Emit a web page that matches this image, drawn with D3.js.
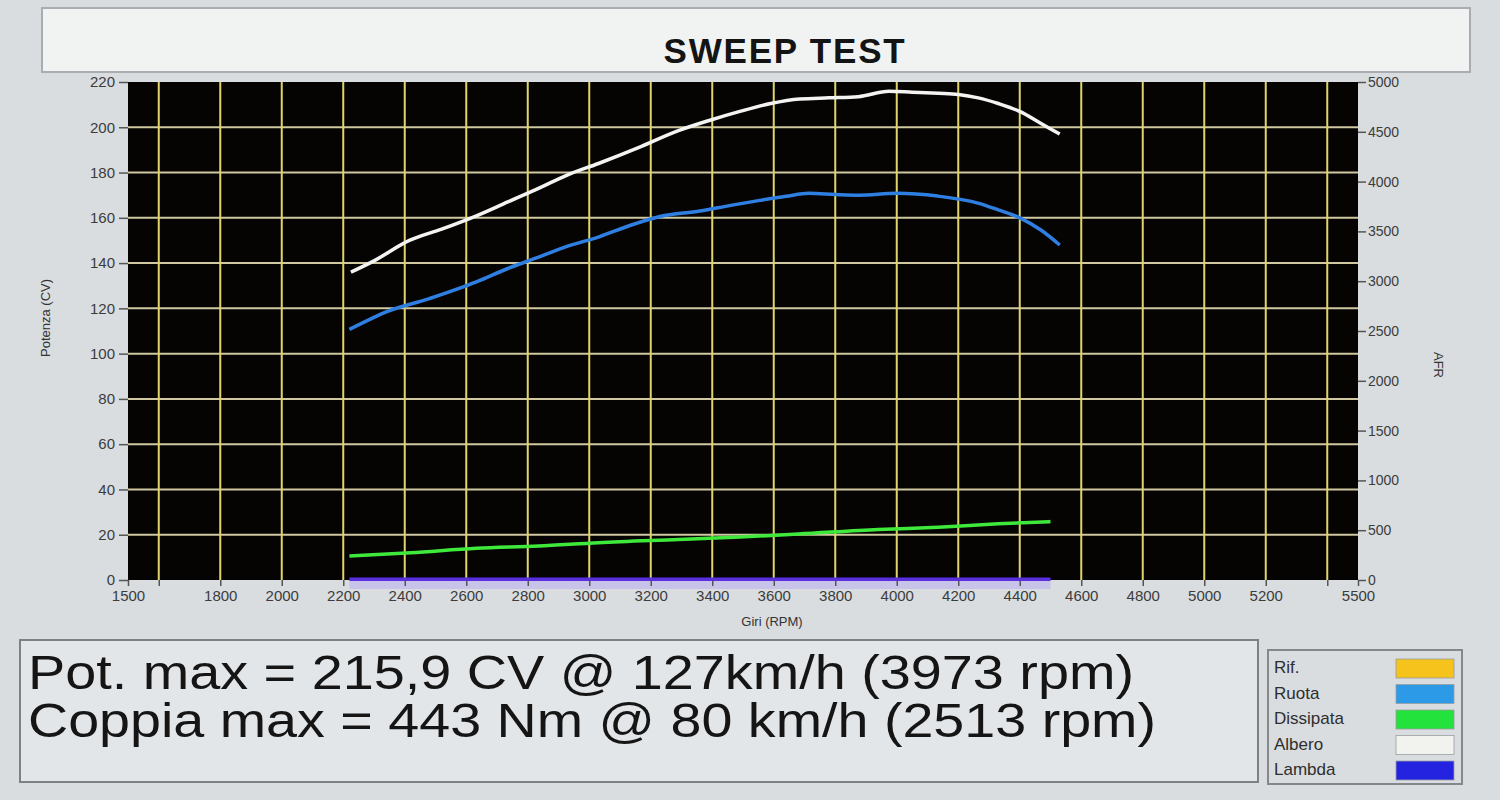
<!DOCTYPE html>
<html>
<head>
<meta charset="utf-8">
<script src="https://cdn.jsdelivr.net/npm/d3@7"></script>
<style>
  html, body { margin: 0; padding: 0; background: #d9dde0; }
  svg { display: block; font-family: Arial, "Liberation Sans", sans-serif; }
</style>
</head>
<body>
<svg id="chart" width="1500" height="800"></svg>
<script>
// ---------- data ----------
const titleText = "SWEEP TEST";
const xTicks = [1500, 1600, 1800, 2000, 2200, 2400, 2600, 2800, 3000, 3200, 3400, 3600, 3800, 4000, 4200, 4400, 4600, 4800, 5000, 5200, 5400, 5500];
const xUnlabeled = [1600, 5400];
const yLeftTicks = [0, 20, 40, 60, 80, 100, 120, 140, 160, 180, 200, 220];
const yRightTicks = [0, 500, 1000, 1500, 2000, 2500, 3000, 3500, 4000, 4500, 5000];

// Albero (shaft power, CV)
const alberoRpm = [2225, 2300, 2415, 2520, 2635, 2735, 2835, 2930, 3030, 3160, 3290, 3390, 3490, 3590, 3685, 3780, 3875, 3975, 4050, 4135, 4200, 4265, 4330, 4400, 4465, 4530];
const alberoCV  = [136, 141, 150, 155, 161, 167, 173, 179, 184, 191, 198.5, 203, 207, 210.5, 212.5, 213, 213.5, 215.9, 215.5, 215, 214.5, 213, 210.5, 207, 202, 197];
// Ruota (wheel power, CV)
const ruotaRpm = [2220, 2300, 2330, 2480, 2633, 2733, 2833, 2930, 3032, 3130, 3230, 3360, 3460, 3555, 3640, 3715, 3800, 3877, 4000, 4133, 4267, 4330, 4400, 4470, 4530];
const ruotaCV  = [110.7, 116, 117.9, 124.3, 131.7, 137.5, 142.5, 147.5, 151.6, 156.5, 160.6, 163, 165.5, 167.7, 169.5, 170.8, 170.3, 170, 170.8, 169.6, 166.4, 163.5, 160, 154.5, 148];
// Dissipata (losses, CV)
const dissRpm = [2220, 2420, 2633, 2835, 3030, 3290, 3490, 3680, 3940, 4135, 4330, 4500];
const dissCV  = [10.6, 12, 14, 15, 16.5, 17.9, 19, 20.3, 22.3, 23.3, 24.8, 25.8];
// Lambda (right axis, AFR)
const lambdaRpm = [2220, 2800, 3400, 4000, 4500];
const lambdaAFR = [8, 8, 8, 8, 8];

const legendNames  = ["Rif.", "Ruota", "Dissipata", "Albero", "Lambda"];
const legendColors = ["#f6c21c", "#2c9ae6", "#24e23c", "#f2f2ee", "#2323e0"];

const infoLines = [
  "Pot. max = 215,9 CV @ 127km/h (3973 rpm)",
  "Coppia max = 443 Nm @ 80 km/h (2513 rpm)"
];

// ---------- drawing ----------
const svg = d3.select("#chart");
const L = 128, R = 1358, T = 82, B = 580;

const x  = d3.scaleLinear().domain([1500, 5500]).range([L, R]);
const yL = d3.scaleLinear().domain([0, 220]).range([B, T]);
const yR = d3.scaleLinear().domain([0, 5000]).range([B, T]);

// title bar
svg.append("rect").attr("x", 42).attr("y", 8).attr("width", 1428).attr("height", 64)
  .attr("fill", "#f1f3f3").attr("stroke", "#a9adb1").attr("stroke-width", 2);
svg.append("text").attr("x", 785).attr("y", 63).attr("text-anchor", "middle")
  .attr("font-size", 35).attr("font-weight", "bold").attr("letter-spacing", 1.8)
  .attr("fill", "#141414").text(titleText);

// plot background
svg.append("rect").attr("x", L).attr("y", T).attr("width", R - L).attr("height", B - T)
  .attr("fill", "#050403");

// grid
const grid = svg.append("g");
grid.selectAll("line.h").data(yLeftTicks.filter(d => d > 0 && d < 220)).join("line")
  .attr("x1", L).attr("x2", R).attr("y1", d => yL(d)).attr("y2", d => yL(d))
  .attr("stroke", "#cfc8a0").attr("stroke-width", 2);
grid.selectAll("line.v").data(d3.range(1600, 5401, 200)).join("line")
  .attr("x1", d => x(d)).attr("x2", d => x(d)).attr("y1", T).attr("y2", B)
  .attr("stroke", "#e0d46a").attr("stroke-width", 2);

// lambda glow below plot
svg.append("rect").attr("x", x(lambdaRpm[0])).attr("y", B)
  .attr("width", x(lambdaRpm[lambdaRpm.length - 1]) - x(lambdaRpm[0])).attr("height", 9)
  .attr("fill", "#b9aef0").attr("opacity", 0.55);

// axes
function styleAxis(g) {
  g.select(".domain").remove();
  g.selectAll(".tick line").attr("stroke", "#555").attr("stroke-width", 1.5);
  g.selectAll(".tick text").attr("fill", "#3c3c3c").attr("font-family", "Arial, 'Liberation Sans', sans-serif");
}
svg.append("g").attr("transform", `translate(${L},0)`)
  .call(d3.axisLeft(yL).tickValues(yLeftTicks).tickSize(9).tickPadding(4))
  .call(styleAxis).call(g => g.selectAll(".tick text").attr("font-size", 15));

svg.append("g").attr("transform", `translate(${R},0)`)
  .call(d3.axisRight(yR).tickValues(yRightTicks).tickSize(8).tickPadding(2).tickFormat(d3.format("d")))
  .call(styleAxis).call(g => g.selectAll(".tick text").attr("font-size", 14));

svg.append("g").attr("transform", `translate(0,${B})`)
  .call(d3.axisBottom(x).tickValues(xTicks).tickSize(6).tickPadding(4)
    .tickFormat(d => xUnlabeled.includes(d) ? "" : d3.format("d")(d)))
  .call(styleAxis).call(g => g.selectAll(".tick text").attr("font-size", 15));

// axis titles
svg.append("text").attr("transform", "translate(50,318) rotate(-90)")
  .attr("text-anchor", "middle").attr("font-size", 13).attr("fill", "#333").text("Potenza (CV)");
svg.append("text").attr("transform", "translate(1434,365) rotate(90)")
  .attr("text-anchor", "middle").attr("font-size", 13).attr("fill", "#333").text("AFR");
svg.append("text").attr("x", 772).attr("y", 626).attr("text-anchor", "middle")
  .attr("font-size", 13).attr("fill", "#333").text("Giri (RPM)");

// curves
const lineL = d3.line().x(d => x(d[0])).y(d => yL(d[1])).curve(d3.curveMonotoneX);
const lineR = d3.line().x(d => x(d[0])).y(d => yR(d[1])).curve(d3.curveMonotoneX);

svg.append("path").datum(d3.zip(lambdaRpm, lambdaAFR)).attr("d", lineR)
  .attr("fill", "none").attr("stroke", "#5a2fe0").attr("stroke-width", 3.5);

svg.append("path").datum(d3.zip(dissRpm, dissCV)).attr("d", lineL)
  .attr("fill", "none").attr("stroke", "#3fe93c").attr("stroke-width", 3.5);
svg.append("path").datum(d3.zip(ruotaRpm, ruotaCV)).attr("d", lineL)
  .attr("fill", "none").attr("stroke", "#2f7fe2").attr("stroke-width", 3.5);
svg.append("path").datum(d3.zip(alberoRpm, alberoCV)).attr("d", lineL)
  .attr("fill", "none").attr("stroke", "#f3f3f1").attr("stroke-width", 3.5);

// info box
svg.append("rect").attr("x", 20).attr("y", 640).attr("width", 1238).attr("height", 142)
  .attr("fill", "#e3e6e8").attr("stroke", "#7d8186").attr("stroke-width", 2);
svg.selectAll("text.info").data(infoLines).join("text")
  .attr("x", 28).attr("y", (d, i) => 689 + i * 48)
  .attr("font-size", 48).attr("fill", "#151515")
  .attr("textLength", (d, i) => i === 0 ? 1106 : 1128)
  .attr("lengthAdjust", "spacingAndGlyphs")
  .text(d => d);

// legend
svg.append("rect").attr("x", 1268).attr("y", 650).attr("width", 194).attr("height", 134)
  .attr("fill", "#d9dde0").attr("stroke", "#84888d").attr("stroke-width", 2);
const leg = svg.append("g").selectAll("g").data(legendNames).join("g")
  .attr("transform", (d, i) => `translate(0,${668 + i * 25.5})`);
leg.append("text").attr("x", 1274).attr("y", 5).attr("font-size", 17).attr("fill", "#2e2e2e").text(d => d);
leg.append("rect").attr("x", 1396).attr("y", -9).attr("width", 58).attr("height", 19)
  .attr("fill", (d, i) => legendColors[i]).attr("stroke", "#9a9ea2").attr("stroke-width", 0.8);
</script>
</body>
</html>
